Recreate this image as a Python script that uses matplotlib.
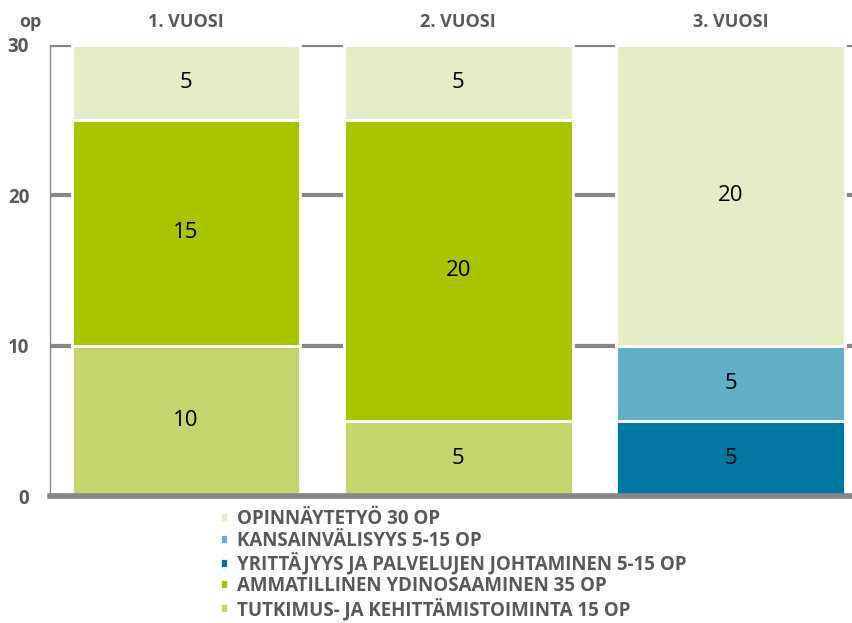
import numpy as np
import matplotlib
matplotlib.use("Agg")
import matplotlib.pyplot as plt

plt.rcParams['font.family'] = ['Open Sans', 'DejaVu Sans']

years = ['1. VUOSI', '2. VUOSI', '3. VUOSI']

# stacked from bottom to top
tutkimus = [10, 5, 0]
ammatillinen = [15, 20, 0]
yrittajyys = [0, 0, 5]
kansainvalisyys = [0, 0, 5]
opinnayte = [5, 5, 20]

series = [
    ('TUTKIMUS- JA KEHITTÄMISTOIMINTA 15 OP', tutkimus, '#c5d56e'),
    ('AMMATILLINEN YDINOSAAMINEN 35 OP', ammatillinen, '#a9c400'),
    ('YRITTÄJYYS JA PALVELUJEN JOHTAMINEN 5-15 OP', yrittajyys, '#0076a0'),
    ('KANSAINVÄLISYYS 5-15 OP', kansainvalisyys, '#62afc7'),
    ('OPINNÄYTETYÖ 30 OP', opinnayte, '#e5edc6'),
]

fig = plt.figure(figsize=(8.53, 6.23), dpi=100)
ax = fig.add_axes((50/853, 1-496/623, 803/853, 451/623))

x = np.arange(len(years))
bottom = np.zeros(len(years))
handles = []
for name, vals, col in series:
    vals = np.array(vals, dtype=float)
    b = ax.bar(x, vals, 0.84, bottom=bottom, color=col, edgecolor='white',
               linewidth=2, zorder=3, label=name)
    for xi, v, bt in zip(x, vals, bottom):
        if v > 0:
            ax.text(xi, bt + v/2, f'{int(v)}', ha='center', va='center',
                    fontsize=16, color='black', zorder=4)
    handles.append(b)
    bottom += vals

ax.set_xlim(-0.5, 2.45)
ax.set_ylim(0, 30)
ax.set_yticks([0, 10, 20, 30])
ax.set_yticklabels(['0', '10', '20', '30'], fontsize=13.5, fontweight='bold', color='#595959')
ax.tick_params(axis='y', length=0, pad=15)
ax.set_xticks([])
ax.grid(axis='y', color='#868686', linewidth=3, zorder=1)
for s in ['top', 'right']:
    ax.spines[s].set_visible(False)
ax.spines['left'].set_color('#868686')
ax.spines['left'].set_linewidth(1)
ax.spines['bottom'].set_color('#868686')
ax.spines['bottom'].set_linewidth(4)
ax.spines['bottom'].set_zorder(5)

for xi, yr in zip(x, years):
    ax.text(xi, 1.05, yr, transform=ax.get_xaxis_transform(), ha='center', va='center',
            fontsize=13, fontweight='bold', color='#595959')
fig.text(30/853, 1-22/623, 'op', ha='center', va='center', fontsize=13,
         fontweight='bold', color='#595959')

leg = fig.legend(handles[::-1], [s[0] for s in series][::-1], loc='upper left',
                 bbox_to_anchor=(220/853, 1-509/623), frameon=False,
                 prop={'size': 13.5, 'weight': 'bold'}, handlelength=0.45, handleheight=0.45,
                 handletextpad=0.45, labelspacing=0.08, borderpad=0, borderaxespad=0)
for t in leg.get_texts():
    t.set_color('#595959')

fig.savefig('out.png', dpi=100)
